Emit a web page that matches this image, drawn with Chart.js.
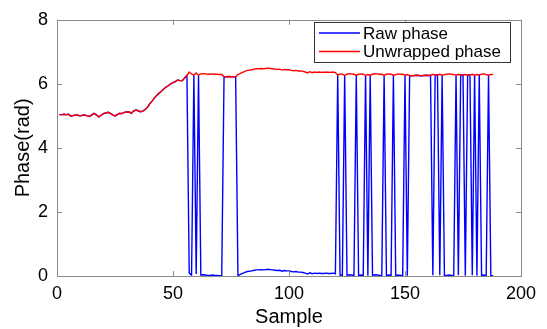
<!DOCTYPE html>
<html>
<head>
<meta charset="utf-8">
<script src="https://cdn.jsdelivr.net/npm/chart.js@4.4.1/dist/chart.umd.min.js"></script>
<style>
  html, body { margin: 0; padding: 0; background: #fff; }
  canvas { display: block; }
</style>
</head>
<body>
<canvas id="phaseChart" width="547" height="329"></canvas>
<script>
// unwrapped phase (rad), samples 1..188
const unwrapped = [
  5.04, 5.04, 5.05, 5.04, 5.05, 4.99, 5.01, 5.03, 5.02, 5.00,
  5.02, 5.03, 5.00, 4.98, 5.03, 5.08, 5.03, 4.97, 5.02, 5.07,
  5.09, 5.11, 5.08, 5.03, 5.00, 5.04, 5.08, 5.07, 5.11, 5.12,
  5.13, 5.08, 5.15, 5.18, 5.16, 5.13, 5.15, 5.20, 5.27, 5.38,
  5.46, 5.56, 5.64, 5.71, 5.77, 5.84, 5.90, 5.94, 6.00, 6.04,
  6.07, 6.12, 6.10, 6.10, 6.18, 6.26, 6.37, 6.31, 6.27, 6.34,
  6.27, 6.31, 6.32, 6.31, 6.30, 6.30, 6.31, 6.30, 6.30, 6.29,
  6.29, 6.22, 6.22, 6.23, 6.22, 6.22, 6.22, 6.29, 6.33, 6.36,
  6.39, 6.42, 6.43, 6.44, 6.46, 6.47, 6.47, 6.48, 6.47, 6.48,
  6.49, 6.48, 6.47, 6.46, 6.45, 6.46, 6.43, 6.45, 6.44, 6.44,
  6.42, 6.41, 6.42, 6.40, 6.40, 6.39, 6.37, 6.34, 6.38, 6.35,
  6.37, 6.36, 6.37, 6.36, 6.36, 6.37, 6.36, 6.36, 6.37, 6.35,
  6.27, 6.31, 6.30, 6.26, 6.30, 6.32, 6.31, 6.30, 6.27, 6.30,
  6.31, 6.30, 6.26, 6.29, 6.27, 6.30, 6.32, 6.31, 6.30, 6.30,
  6.27, 6.30, 6.31, 6.30, 6.27, 6.29, 6.31, 6.30, 6.30, 6.27,
  6.29, 6.26, 6.25, 6.26, 6.27, 6.26, 6.25, 6.26, 6.27, 6.26,
  6.27, 6.30, 6.27, 6.28, 6.30, 6.27, 6.29, 6.30, 6.31, 6.30,
  6.29, 6.27, 6.30, 6.27, 6.28, 6.29, 6.27, 6.28, 6.30, 6.27,
  6.29, 6.28, 6.30, 6.31, 6.29, 6.27, 6.29, 6.29
];

// raw (wrapped) phase (rad), same samples
const rawPhase = [
  5.04, 5.04, 5.05, 5.04, 5.05, 4.99, 5.01, 5.03, 5.02, 5.00,
  5.02, 5.03, 5.00, 4.98, 5.03, 5.08, 5.03, 4.97, 5.02, 5.07,
  5.09, 5.11, 5.08, 5.03, 5.00, 5.04, 5.08, 5.07, 5.11, 5.12,
  5.13, 5.08, 5.15, 5.18, 5.16, 5.13, 5.15, 5.20, 5.27, 5.38,
  5.46, 5.56, 5.64, 5.71, 5.77, 5.84, 5.90, 5.94, 6.00, 6.04,
  6.07, 6.12, 6.10, 6.10, 6.18, 6.26, 0.09, 0.03, 6.27, 0.06,
  6.27, 0.03, 0.04, 0.03, 0.02, 0.02, 0.03, 0.02, 0.02, 0.01,
  0.01, 6.22, 6.22, 6.23, 6.22, 6.22, 6.22, 0.01, 0.05, 0.08,
  0.11, 0.14, 0.15, 0.16, 0.18, 0.19, 0.19, 0.20, 0.19, 0.20,
  0.21, 0.20, 0.19, 0.18, 0.17, 0.18, 0.15, 0.17, 0.16, 0.16,
  0.14, 0.13, 0.14, 0.12, 0.12, 0.11, 0.09, 0.06, 0.10, 0.07,
  0.09, 0.08, 0.09, 0.08, 0.08, 0.09, 0.08, 0.08, 0.09, 0.07,
  6.27, 0.03, 0.02, 6.26, 0.02, 0.04, 0.03, 0.02, 6.27, 0.02,
  0.03, 0.02, 6.26, 0.01, 6.27, 0.02, 0.04, 0.03, 0.02, 0.02,
  6.27, 0.02, 0.03, 0.02, 6.27, 0.01, 0.03, 0.02, 0.02, 6.27,
  0.01, 6.26, 6.25, 6.26, 6.27, 6.26, 6.25, 6.26, 6.27, 6.26,
  6.27, 0.02, 6.27, 6.28, 0.02, 6.27, 0.01, 0.02, 0.03, 0.02,
  0.01, 6.27, 0.02, 6.27, 6.28, 0.01, 6.27, 6.28, 0.02, 6.27,
  0.01, 6.28, 0.02, 0.03, 0.01, 6.27, 0.01, 0.01
];

const xTicks = [0, 50, 100, 150, 200];
const yTicks = [0, 2, 4, 6, 8];
const seriesNames = ['Raw phase', 'Unwrapped phase'];
const seriesColors = ['#0000ff', '#ff0000'];

const toPoints = (arr) => arr.map((v, i) => ({ x: i + 1, y: v }));

// box around the axes, inward ticks and the legend (matlab look)
const matlabFrame = {
  id: 'matlabFrame',
  afterDatasetsDraw(chart) {
    const { ctx, chartArea: a, scales: { x, y } } = chart;
    const tl = 5;
    ctx.save();
    ctx.strokeStyle = '#8a8a8a';
    ctx.lineWidth = 1;
    ctx.beginPath();
    xTicks.forEach((v) => {
      const px = Math.round(x.getPixelForValue(v)) + 0.5;
      ctx.moveTo(px, a.bottom); ctx.lineTo(px, a.bottom - tl);
      ctx.moveTo(px, a.top); ctx.lineTo(px, a.top + tl);
    });
    yTicks.forEach((v) => {
      const py = Math.round(y.getPixelForValue(v)) + 0.5;
      ctx.moveTo(a.left, py); ctx.lineTo(a.left + tl, py);
      ctx.moveTo(a.right, py); ctx.lineTo(a.right - tl, py);
    });
    ctx.stroke();
    ctx.strokeRect(Math.round(a.left) + 0.5, Math.round(a.top) + 0.5,
      Math.round(a.width), Math.round(a.height));

    // legend
    const lx = 314, ly = 22, lw = 196, lh = 40;
    ctx.fillStyle = '#fff';
    ctx.fillRect(lx, ly, lw, lh);
    ctx.strokeStyle = '#333';
    ctx.strokeRect(lx + 0.5, ly + 0.5, lw, lh);
    ctx.font = '17px "Liberation Sans", Arial, sans-serif';
    ctx.textBaseline = 'middle';
    seriesNames.forEach((name, i) => {
      const rowY = ly + 11 + i * 18.5;
      ctx.strokeStyle = seriesColors[i];
      ctx.lineWidth = 1.3;
      ctx.beginPath();
      ctx.moveTo(lx + 5, rowY); ctx.lineTo(lx + 46, rowY);
      ctx.stroke();
      ctx.fillStyle = '#000';
      ctx.fillText(name, lx + 49, rowY + 1);
    });
    ctx.restore();
  }
};

const ctx = document.getElementById('phaseChart').getContext('2d');

const chart = new Chart(ctx, {
  type: 'line',
  data: {
    datasets: [
      { label: seriesNames[0], data: toPoints(rawPhase), borderColor: seriesColors[0],
        borderWidth: 1.4, pointRadius: 0, fill: false, tension: 0, order: 2 },
      { label: seriesNames[1], data: toPoints(unwrapped), borderColor: seriesColors[1],
        borderWidth: 1.4, pointRadius: 0, fill: false, tension: 0, order: 1 }
    ]
  },
  options: {
    responsive: false,
    animation: false,
    layout: { padding: { left: 0, right: 26, top: 12, bottom: 0 } },
    plugins: { legend: { display: false }, tooltip: { enabled: false } },
    scales: {
      x: {
        type: 'linear', min: 0, max: 200,
        afterBuildTicks: (s) => { s.ticks = xTicks.map((v) => ({ value: v })); },
        afterFit: (s) => { s.height = 53; },
        grid: { display: false, drawTicks: false },
        border: { display: false },
        ticks: { padding: 7, color: '#000', font: { family: '"Liberation Sans", Arial, sans-serif', size: 18 } },
        title: { display: true, text: 'Sample', color: '#000', padding: { top: 0, bottom: 0 },
          font: { family: '"Liberation Sans", Arial, sans-serif', size: 20 } }
      },
      y: {
        type: 'linear', min: 0, max: 8,
        afterBuildTicks: (s) => { s.ticks = yTicks.map((v) => ({ value: v })); },
        afterFit: (s) => { s.width = 57; },
        grid: { display: false, drawTicks: false },
        border: { display: false },
        ticks: { padding: 9, color: '#000', font: { family: '"Liberation Sans", Arial, sans-serif', size: 18 } },
        title: { display: true, text: 'Phase(rad)', color: '#000', padding: { top: 11, bottom: 0 },
          font: { family: '"Liberation Sans", Arial, sans-serif', size: 20 } }
      }
    }
  },
  plugins: [matlabFrame]
});
</script>
</body>
</html>
